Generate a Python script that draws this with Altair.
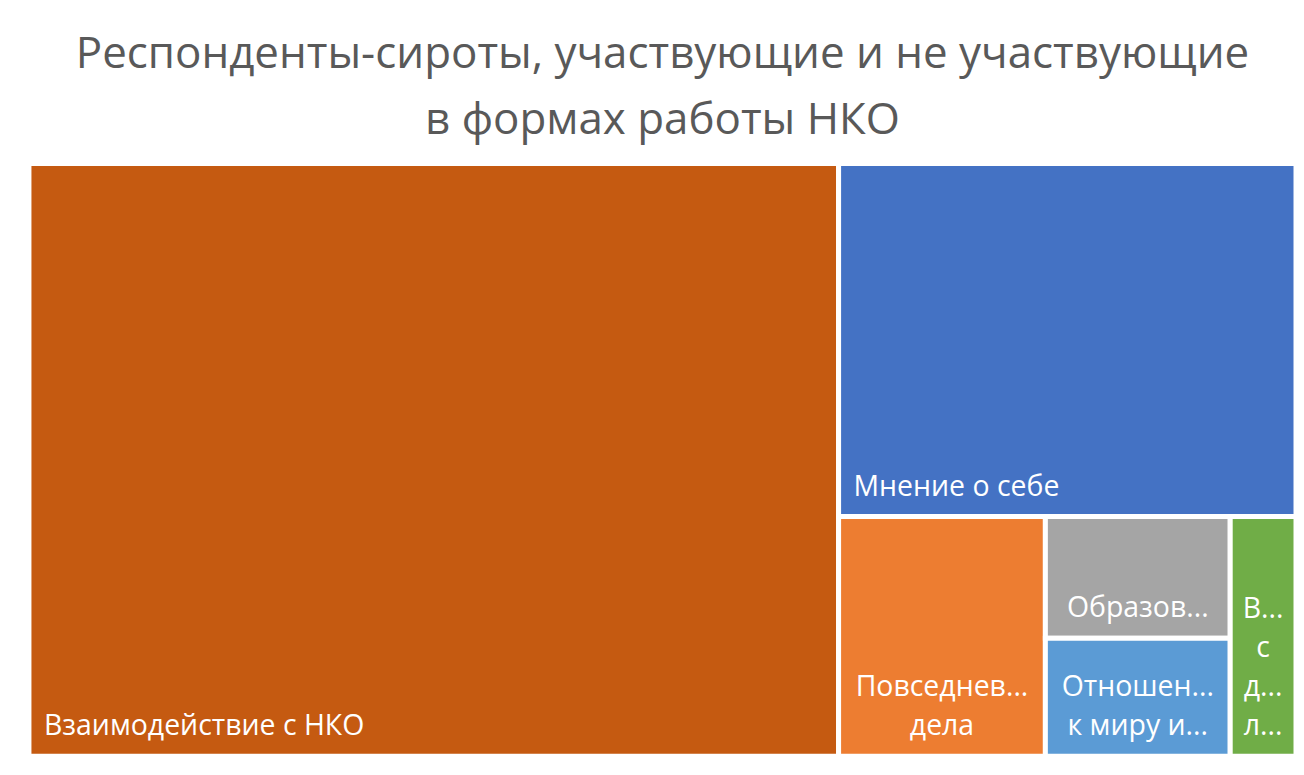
import altair as alt
import pandas as pd

# ---- data ----
names = [
    "Взаимодействие с НКО",
    "Мнение о себе",
    "Повседневные дела",
    "Образование",
    "Отношение к миру и людям",
    "Взаимоотношения с друзьями и любимыми",
]
values = [63.9, 21.5, 6.6, 3.0, 2.9, 2.1]
labels = [
    "Взаимодействие с НКО",
    "Мнение о себе",
    "Повседнев...\nдела",
    "Образов...",
    "Отношен...\nк миру и...",
    "В...\nс\nд...\nл...",
]
label_align = ["left", "left", "center", "center", "center", "center"]
colors = ["#C55A11", "#4472C4", "#ED7D31", "#A5A5A5", "#5B9BD5", "#70AD47"]
title_lines = ["Респонденты-сироты, участвующие и не участвующие", "в формах работы НКО"]

W, H = 1270, 594  # treemap area (data units = pixels)
LINE_H = 39


# ---- squarified treemap layout ----
def worst(row, side):
    s = sum(row)
    return max(max(side * side * r / (s * s), s * s / (side * side * r)) for r in row)


def layout_row(row, x, y, w, h):
    s = sum(row)
    out = []
    if w >= h:
        cw = s / h
        yy = y
        for r in row:
            rh = r / cw
            out.append((x, yy, x + cw, yy + rh))
            yy += rh
        return out, (x + cw, y, w - cw, h)
    rh = s / w
    xx = x
    for r in row:
        rw = r / rh
        out.append((xx, y, xx + rw, y + rh))
        xx += rw
    return out, (x, y + rh, w, h - rh)


def squarify(vals, w, h):
    total = sum(vals)
    areas = [v * w * h / total for v in vals]
    rects, row, rest, rect = [], [], list(areas), (0.0, 0.0, float(w), float(h))
    while rest:
        side = min(rect[2], rect[3])
        c = rest[0]
        if not row or worst(row + [c], side) <= worst(row, side):
            row.append(c)
            rest.pop(0)
        else:
            r, rect = layout_row(row, *rect)
            rects += r
            row = []
    if row:
        r, rect = layout_row(row, *rect)
        rects += r
    return rects


cells = squarify(values, W, H)
df = pd.DataFrame({
    "name": names,
    "value": values,
    "label": labels,
    "align": label_align,
    "nlines": [lab.count("\n") + 1 for lab in labels],
    "x0": [c[0] for c in cells],
    "y0": [c[1] for c in cells],
    "x1": [c[2] for c in cells],
    "y1": [c[3] for c in cells],
})

xs = alt.Scale(domain=[0, W], nice=False, zero=False)
ys = alt.Scale(domain=[0, H], nice=False, zero=False, reverse=True)

base = alt.Chart(df)

rects = base.mark_rect(stroke="white", strokeWidth=5).encode(
    x=alt.X("x0:Q", scale=xs, axis=None),
    x2="x1:Q",
    y=alt.Y("y0:Q", scale=ys, axis=None),
    y2="y1:Q",
    color=alt.Color("name:N", scale=alt.Scale(domain=names, range=colors), legend=None),
    tooltip=["name:N", "value:Q"],
)

text_style = dict(
    baseline="alphabetic", dy=-21, lineBreak="\n", lineHeight=LINE_H,
    font="Open Sans", fontSize=28.5, color="white",
)

text_left = base.transform_filter(alt.datum.align == "left").transform_calculate(
    ty=f"datum.y1 - (datum.nlines - 1) * {LINE_H}"
).mark_text(align="left", dx=15, **text_style).encode(
    x=alt.X("x0:Q", scale=xs, axis=None),
    y=alt.Y("ty:Q", scale=ys, axis=None),
    text="label:N",
)

text_center = base.transform_filter(alt.datum.align == "center").transform_calculate(
    xc="(datum.x0 + datum.x1) / 2",
    ty=f"datum.y1 - (datum.nlines - 1) * {LINE_H}",
).mark_text(align="center", **text_style).encode(
    x=alt.X("xc:Q", scale=xs, axis=None),
    y=alt.Y("ty:Q", scale=ys, axis=None),
    text="label:N",
)

chart = alt.layer(rects, text_left, text_center).properties(
    width=W,
    height=H,
    title=alt.TitleParams(
        text=title_lines,
        font="Open Sans",
        fontSize=44,
        fontWeight="normal",
        color="#595959",
        anchor="middle",
        lineHeight=66,
        offset=18,
    ),
    padding={"left": 21, "top": 155, "right": 0, "bottom": 0},
    autosize=alt.AutoSizeParams(type="none"),
).configure_view(stroke=None)

chart.save("out.html", embed_options={"renderer": "svg", "actions": False})
